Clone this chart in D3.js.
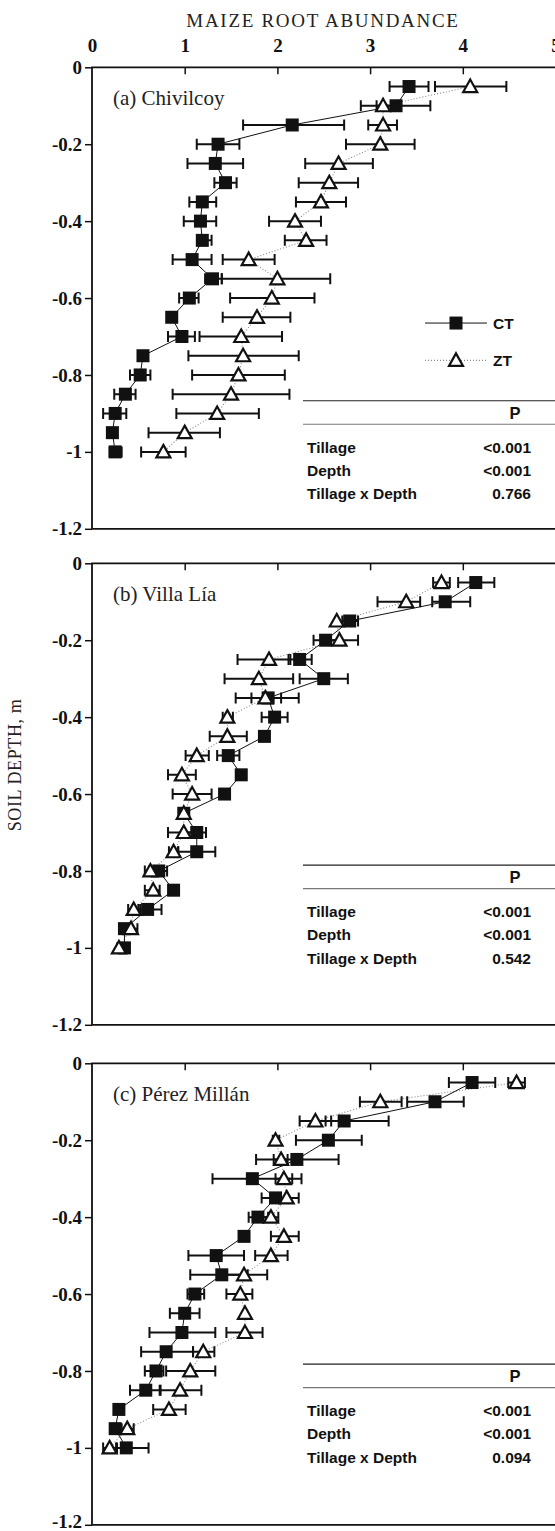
<!DOCTYPE html>
<html>
<head>
<meta charset="utf-8">
<script src="https://cdn.jsdelivr.net/npm/d3@7"></script>
<style>
  html, body { margin: 0; padding: 0; background: #fff; }
  svg { display: block; }
</style>
</head>
<body>
<svg id="chart" width="555" height="1531"></svg>
<script>
// soil depth of each sampling layer (m)
const depths = [-0.05, -0.1, -0.15, -0.2, -0.25, -0.3, -0.35, -0.4, -0.45, -0.5,
                -0.55, -0.6, -0.65, -0.7, -0.75, -0.8, -0.85, -0.9, -0.95, -1.0];

const xTicks = [0, 1, 2, 3, 4, 5];
const yTicks = [0, -0.2, -0.4, -0.6, -0.8, -1, -1.2];

// [mean, lower, upper] root abundance per depth
const chivilcoyCT = [[3.42,3.21,3.63],[3.28,3.07,3.65],[2.16,1.63,2.72],[1.36,1.13,1.59],[1.33,1.03,1.63],
  [1.44,1.32,1.56],[1.19,1.05,1.34],[1.17,0.99,1.34],[1.19,1.14,1.29],[1.08,0.87,1.29],
  [1.30,1.22,1.40],[1.05,0.94,1.15],[0.86,0.86,0.86],[0.97,0.82,1.11],[0.55,0.55,0.55],
  [0.52,0.41,0.63],[0.36,0.24,0.47],[0.25,0.12,0.37],[0.22,0.22,0.22],[0.25,0.19,0.32]];
const chivilcoyZT = [[4.08,3.70,4.47],[3.14,2.90,3.30],[3.14,2.98,3.29],[3.11,2.74,3.48],[2.66,2.30,3.03],
  [2.56,2.23,2.87],[2.47,2.20,2.74],[2.19,1.91,2.47],[2.31,2.08,2.53],[1.69,1.41,1.97],
  [2.00,1.40,2.57],[1.94,1.49,2.40],[1.78,1.41,2.14],[1.61,1.16,2.05],[1.63,1.04,2.23],
  [1.58,1.08,2.08],[1.50,0.87,2.13],[1.35,0.91,1.80],[1.00,0.61,1.38],[0.77,0.53,1.01]];

const villaLiaCT = [[4.14,3.95,4.34],[3.81,3.67,4.08],[2.78,2.70,2.87],[2.52,2.39,2.66],[2.24,2.12,2.37],
  [2.50,2.24,2.76],[1.90,1.55,2.23],[1.97,1.83,2.11],[1.86,1.86,1.86],[1.47,1.35,1.59],
  [1.61,1.61,1.61],[1.43,1.43,1.43],[0.99,0.99,0.99],[1.13,1.00,1.23],[1.13,0.93,1.33],
  [0.72,0.63,0.81],[0.88,0.88,0.88],[0.60,0.50,0.75],[0.35,0.35,0.35],[0.35,0.35,0.35]];
const villaLiaZT = [[3.77,3.68,3.86],[3.39,3.08,3.54],[2.64,2.64,2.64],[2.67,2.55,2.87],[1.91,1.57,2.14],
  [1.80,1.43,2.17],[1.87,1.72,2.04],[1.46,1.41,1.52],[1.46,1.27,1.67],[1.13,1.01,1.26],
  [0.97,0.82,1.12],[1.08,0.87,1.29],[0.99,0.99,0.99],[0.99,0.82,1.10],[0.88,0.83,0.93],
  [0.63,0.57,0.70],[0.66,0.57,0.73],[0.45,0.39,0.52],[0.42,0.36,0.49],[0.29,0.27,0.31]];

const perezMillanCT = [[4.10,3.85,4.35],[3.70,3.40,4.01],[2.72,2.52,3.20],[2.55,2.20,2.91],[2.21,1.77,2.66],
  [1.73,1.30,2.16],[1.98,1.83,2.10],[1.79,1.69,1.90],[1.64,1.64,1.64],[1.34,1.04,1.64],
  [1.40,1.06,1.68],[1.11,1.03,1.21],[1.00,0.84,1.16],[0.97,0.62,1.33],[0.80,0.53,1.09],
  [0.69,0.57,0.77],[0.58,0.41,0.73],[0.29,0.29,0.29],[0.25,0.25,0.25],[0.37,0.26,0.61]];
const perezMillanZT = [[4.58,4.49,4.67],[3.11,2.89,3.34],[2.41,2.24,2.58],[1.98,1.95,2.02],[2.04,1.96,2.11],
  [2.07,1.98,2.26],[2.10,1.97,2.23],[1.93,1.83,2.01],[2.07,1.93,2.23],[1.93,1.76,2.11],
  [1.64,1.45,1.89],[1.60,1.45,1.73],[1.65,1.65,1.65],[1.65,1.45,1.84],[1.20,1.09,1.32],
  [1.06,0.80,1.33],[0.95,0.74,1.18],[0.83,0.66,1.01],[0.38,0.32,0.45],[0.19,0.12,0.27]];

const panelNames = ["(a) Chivilcoy", "(b) Villa Lía", "(c) Pérez Millán"];
const anovaTerms = ["Tillage", "Depth", "Tillage x Depth"];
const anovaP = [["<0.001", "<0.001", "0.766"], ["<0.001", "<0.001", "0.542"], ["<0.001", "<0.001", "0.094"]];
const seriesNames = ["CT", "ZT"];

// layout
const left = 92, right = 555.5;
const panelTop = [67.3, 563.3, 1063.3];
const panelH = 461.5;
const tableDepth = [-0.867, -0.785, -0.782];   // where the P table rule sits

const svg = d3.select("#chart");
const serif = "'Liberation Serif', 'Times New Roman', serif";
const sans = "'Liberation Sans', Arial, sans-serif";

const x = d3.scaleLinear().domain([0, 5]).range([left, right]);

svg.append("text")
  .attr("x", 323).attr("y", 27)
  .attr("text-anchor", "middle")
  .attr("font-family", serif).attr("font-size", 19)
  .attr("letter-spacing", 1.7)
  .attr("fill", "#222")
  .text("MAIZE ROOT ABUNDANCE");

svg.append("text")
  .attr("transform", "translate(21,765) rotate(-90)")
  .attr("text-anchor", "middle")
  .attr("font-family", serif).attr("font-size", 18)
  .attr("letter-spacing", 0.6)
  .attr("fill", "#222")
  .text("SOIL DEPTH, m");

const triangle = "M0,-7.5L7,5L-7,5Z";

const panels = [
  [chivilcoyCT, chivilcoyZT],
  [villaLiaCT, villaLiaZT],
  [perezMillanCT, perezMillanZT]
];

panels.forEach(([ct, zt], i) => {
  const top = panelTop[i];
  const y = d3.scaleLinear().domain([0, -1.2]).range([top, top + panelH]);
  const g = svg.append("g");

  // axes
  const yAxis = g.append("g")
    .attr("transform", `translate(${left},0)`)
    .call(d3.axisLeft(y).tickValues(yTicks).tickSize(7).tickPadding(3)
      .tickFormat(d => d === 0 ? "0" : String(+d.toFixed(1))));
  yAxis.select(".domain").remove();
  yAxis.selectAll("line").attr("stroke", "#111").attr("stroke-width", 1.5);
  yAxis.selectAll("text")
    .attr("font-family", serif).attr("font-weight", "bold").attr("font-size", 19)
    .attr("fill", "#111");
  if (i === 2) yAxis.selectAll(".tick").filter(d => d === -1.2).select("text").attr("dy", "0.15em");

  const xAxis = g.append("g")
    .attr("transform", `translate(0,${top})`)
    .call(d3.axisTop(x).tickValues(xTicks).tickSize(-7).tickPadding(i === 0 ? 15 : 0)
      .tickFormat(d => i === 0 ? d : ""));
  xAxis.select(".domain").remove();
  xAxis.selectAll(".tick").filter(d => d === 0 || d === 5).select("line").remove();
  xAxis.selectAll("line").attr("stroke", "#111").attr("stroke-width", 1.5);
  xAxis.selectAll("text")
    .attr("font-family", serif).attr("font-weight", "bold").attr("font-size", 19)
    .attr("fill", "#111");

  // frame: left, top, bottom
  g.append("path")
    .attr("d", `M${right},${top}H${left}V${top + panelH}H${right}`)
    .attr("fill", "none").attr("stroke", "#111").attr("stroke-width", 1.8);

  g.append("text")
    .attr("x", 113).attr("y", top + 38)
    .attr("font-family", serif).attr("font-size", 21).attr("fill", "#222")
    .text(panelNames[i]);

  const line = d3.line().x(d => x(d[0])).y((d, k) => y(depths[k]));

  g.append("path").datum(zt).attr("d", line)
    .attr("fill", "none").attr("stroke", "#888").attr("stroke-width", 1.1)
    .attr("stroke-dasharray", "1,2");
  g.append("path").datum(ct).attr("d", line)
    .attr("fill", "none").attr("stroke", "#111").attr("stroke-width", 1);

  // error bars
  [ct, zt].forEach(series => {
    const eb = g.append("g").attr("stroke", "#111").attr("stroke-width", 2).attr("fill", "none");
    series.forEach((d, k) => {
      if (d[2] - d[1] < 0.02) return;
      const yy = y(depths[k]);
      eb.append("path")
        .attr("d", `M${x(d[1])},${yy}H${x(d[2])}M${x(d[1])},${yy - 5.5}V${yy + 5.5}M${x(d[2])},${yy - 5.5}V${yy + 5.5}`);
    });
  });

  g.append("g").selectAll("rect").data(ct).join("rect")
    .attr("x", d => x(d[0]) - 6.5)
    .attr("y", (d, k) => y(depths[k]) - 6.5)
    .attr("width", 13).attr("height", 13)
    .attr("fill", "#111");

  g.append("g").selectAll("path").data(zt).join("path")
    .attr("transform", (d, k) => `translate(${x(d[0])},${y(depths[k]) + 0.5})`)
    .attr("d", triangle)
    .attr("fill", "#fff").attr("stroke", "#111").attr("stroke-width", 2.2);

  // legend (first panel only)
  if (i === 0) {
    const lg = g.append("g");
    [0.665, 0.762].forEach((dd, s) => {
      const yy = y(-dd);
      lg.append("line").attr("x1", 425).attr("x2", 487).attr("y1", yy).attr("y2", yy)
        .attr("stroke", s === 0 ? "#111" : "#888").attr("stroke-width", s === 0 ? 1 : 1.1)
        .attr("stroke-dasharray", s === 0 ? null : "1,2");
      if (s === 0) {
        lg.append("rect").attr("x", 449.5).attr("y", yy - 6.5).attr("width", 13).attr("height", 13).attr("fill", "#111");
      } else {
        lg.append("path").attr("transform", `translate(456,${yy + 0.5})`).attr("d", triangle)
          .attr("fill", "#fff").attr("stroke", "#111").attr("stroke-width", 2.2);
      }
      lg.append("text").attr("x", 493).attr("y", yy + 5.5)
        .attr("font-family", sans).attr("font-weight", "bold").attr("font-size", 15.5)
        .attr("fill", "#111").text(seriesNames[s]);
    });
  }

  // P table
  const ty = y(tableDepth[i]);
  g.append("line").attr("x1", 303).attr("x2", right).attr("y1", ty).attr("y2", ty)
    .attr("stroke", "#222").attr("stroke-width", 1.2);
  g.append("line").attr("x1", 303).attr("x2", right).attr("y1", ty + 23.5).attr("y2", ty + 23.5)
    .attr("stroke", "#777").attr("stroke-width", 1.2);
  g.append("text").attr("x", 515).attr("y", ty + 18)
    .attr("text-anchor", "middle")
    .attr("font-family", sans).attr("font-weight", "bold").attr("font-size", 16.5)
    .attr("fill", "#111").text("P");
  anovaTerms.forEach((t, r) => {
    const ry = ty + 52 + r * 23.3;
    g.append("text").attr("x", 307).attr("y", ry)
      .attr("font-family", sans).attr("font-weight", "bold").attr("font-size", 15.5)
      .attr("fill", "#111").text(t);
    g.append("text").attr("x", 531).attr("y", ry)
      .attr("text-anchor", "end")
      .attr("font-family", sans).attr("font-weight", "bold").attr("font-size", 15.5)
      .attr("fill", "#111").text(anovaP[i][r]);
  });
});
</script>
</body>
</html>
